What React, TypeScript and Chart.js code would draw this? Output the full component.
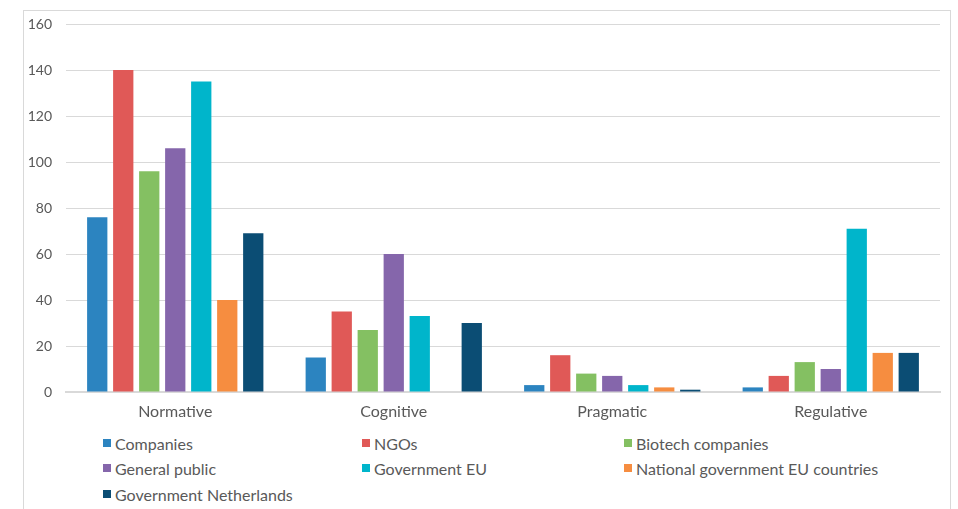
import React, { useEffect, useRef } from "react";
import { Chart, registerables } from "chart.js";

Chart.register(...registerables);

const categories = ["Normative", "Cognitive", "Pragmatic", "Regulative"];
const seriesNames = [
  "Companies",
  "NGOs",
  "Biotech companies",
  "General public",
  "Government EU",
  "National government EU countries",
  "Government Netherlands",
];
const companies = [76, 15, 3, 2];
const ngos = [140, 35, 16, 7];
const biotech = [96, 27, 8, 13];
const generalPublic = [106, 60, 7, 10];
const governmentEU = [135, 33, 3, 71];
const nationalGovEU = [40, 0, 2, 17];
const governmentNL = [69, 30, 1, 17];
const seriesValues = [companies, ngos, biotech, generalPublic, governmentEU, nationalGovEU, governmentNL];
const seriesColors = ["#2C84C0", "#E05957", "#84C062", "#8566AB", "#00B5CB", "#F68D40", "#0B4D74"];
const yTicks = [0, 20, 40, 60, 80, 100, 120, 140, 160];

const FONT = "Lato, 'Open Sans', sans-serif";

export default function App() {
  const ref = useRef<HTMLCanvasElement | null>(null);

  useEffect(() => {
    if (!ref.current) return;
    const chart = new Chart(ref.current, {
      type: "bar",
      data: {
        labels: categories,
        datasets: seriesNames.map((name, i) => ({
          label: name,
          data: seriesValues[i],
          backgroundColor: seriesColors[i],
          borderWidth: 0,
          categoryPercentage: 0.833,
          barPercentage: 0.78,
        })),
      },
      options: {
        animation: false,
        responsive: false,
        maintainAspectRatio: false,
        layout: { padding: { left: 0, right: 18, top: 24, bottom: 0 } },
        plugins: { legend: { display: false }, tooltip: { enabled: false } },
        scales: {
          x: {
            grid: { display: false, drawTicks: false },
            border: { display: true, color: "#d9d9d9", width: 2 },
            ticks: { color: "#595959", font: { family: FONT, size: 16 }, padding: 10 },
            afterFit: (s: any) => {
              s.height = 38;
            },
          },
          y: {
            min: 0,
            max: 160,
            afterBuildTicks: (s: any) => {
              s.ticks = yTicks.map((v) => ({ value: v }));
            },
            grid: { color: "#d9d9d9", lineWidth: 1, drawTicks: false },
            border: { display: false },
            ticks: { color: "#595959", font: { family: FONT, size: 14 }, padding: 14 },
            afterFit: (s: any) => {
              s.width = 66;
            },
          },
        },
      },
    });
    return () => chart.destroy();
  }, []);

  const legendCols = [103, 362, 624];
  const legendRows = [443, 468, 494];

  return (
    <div>
      <div
        style={{
          position: "absolute",
          left: 23,
          top: 10,
          width: 928,
          height: 499,
          border: "1px solid #d9d9d9",
          borderBottom: "none",
          boxSizing: "border-box",
        }}
      />
      <canvas
        ref={ref}
        width={958}
        height={430}
        style={{ position: "absolute", left: 0, top: 0, width: 958, height: 430 }}
      />
      {seriesNames.map((name, i) => {
        const col = i % 3;
        const row = Math.floor(i / 3);
        return (
          <div
            key={name}
            style={{
              position: "absolute",
              left: legendCols[col],
              top: legendRows[row] - 10,
              height: 20,
              display: "flex",
              alignItems: "center",
              fontFamily: FONT,
              fontSize: 16,
              color: "#595959",
              whiteSpace: "nowrap",
            }}
          >
            <span
              style={{
                display: "inline-block",
                width: 8,
                height: 8,
                background: seriesColors[i],
                marginRight: 4,
              }}
            />
            {name}
          </div>
        );
      })}
    </div>
  );
}
